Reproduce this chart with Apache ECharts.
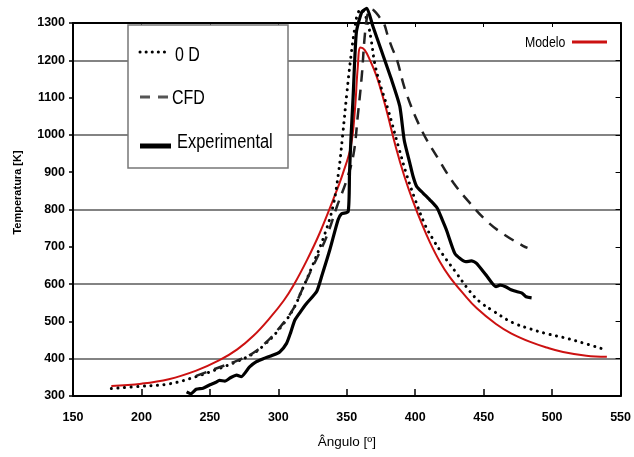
<!DOCTYPE html>
<html>
<head>
<meta charset="utf-8">
<script src="https://cdn.jsdelivr.net/npm/echarts@6/dist/echarts.min.js"></script>
<style>
  html, body { margin: 0; padding: 0; background: #fff; }
  #chart { width: 634px; height: 457px; }
</style>
</head>
<body>
<div id="chart"></div>
<script>
  // valores
  var modeloAngulo = [178, 200, 220, 240, 257, 270, 282, 294, 304, 311, 321, 330, 340, 347, 353, 356, 358, 360, 363, 367, 372, 378, 386, 392, 398, 405, 411, 418, 425, 435, 445, 459, 470, 484, 496, 508, 525, 540];
  var modeloTemp   = [327, 333, 345, 368, 396, 425, 462, 510, 556, 596, 665, 735, 826, 895, 970, 1070, 1180, 1234, 1228, 1200, 1155, 1080, 965, 890, 826, 760, 710, 660, 620, 575, 535, 493, 468, 445, 430, 418, 408, 405];

  var ceroDAngulo = [178, 200, 221, 240, 257, 270, 281, 290, 299, 310, 318, 325, 334, 340, 344, 347, 350, 353, 356, 358, 360.5, 363, 366, 368, 370.5, 374, 380, 388, 394, 400, 407, 413, 420, 430, 440, 447, 457, 471, 484, 496, 508, 520, 540];
  var ceroDTemp   = [320, 326, 333, 352, 374, 393, 412, 438, 472, 527, 590, 650, 735, 810, 900, 1000, 1110, 1210, 1290, 1325, 1337, 1325, 1290, 1250, 1190, 1140, 1070, 965, 890, 826, 760, 720, 680, 630, 580, 553, 528, 497, 480, 467, 457, 445, 423];

  var cfdAngulo = [240, 257, 270, 281, 290, 299, 310, 318, 325, 335, 343, 350, 355, 358, 361, 363, 365, 367, 370, 374, 377, 380, 383, 386.6, 393, 404.5, 416.5, 428, 440, 452, 464, 479, 482];
  var cfdTemp   = [354, 377, 395, 414, 440, 475, 528, 590, 645, 725, 810, 880, 950, 1050, 1160, 1260, 1320, 1337, 1333, 1315, 1300, 1265, 1234, 1202, 1117, 1014, 938, 871, 817, 770, 735, 702, 697];

  var expAngulo = [233, 236, 240, 245, 250, 254, 257, 261, 265, 269.5, 273, 279, 284, 289, 295, 301, 306, 309, 312, 316, 320.6, 328, 332, 337.6, 343.6, 346, 351, 352, 353, 354.6, 357, 361, 364.6, 369, 375, 382.6, 388.7, 392, 396, 398.4, 401, 405.7, 410.6, 416, 420, 422.8, 428.8, 433, 437, 441, 444.6, 451.8, 459, 462, 466, 470, 474, 478, 481, 485];
  var expTemp   = [311, 306, 318, 321, 330, 336, 342, 340, 349, 356, 352, 378, 392, 400, 408, 418, 441, 470, 503, 525, 548, 580, 625, 692, 772, 788, 794, 899, 987, 1100, 1275, 1330, 1339, 1292, 1229, 1149, 1077, 985, 925, 889, 862, 844, 826, 804, 770, 745, 683, 668, 660, 662, 656, 624, 593, 597, 593, 585, 580, 576, 566, 563];

  var xTicks = { min: 150, max: 550, step: 50 };
  var yTicks = { min: 300, max: 1300, step: 100 };

  function pares(xs, ys) {
    return xs.map(function (x, i) { return [x, ys[i]]; });
  }

  var sans = "'Liberation Sans', Arial, sans-serif";
  var chart = echarts.init(document.getElementById('chart'));

  chart.setOption({
    animation: false,
    backgroundColor: '#fff',
    grid: { left: 73, right: 13, top: 23, bottom: 61 },
    xAxis: [{
      type: 'value',
      min: xTicks.min, max: xTicks.max, interval: xTicks.step,
      position: 'bottom',
      axisLine: { show: true, lineStyle: { color: '#000', width: 2 } },
      axisTick: { show: true, inside: true, length: 7, lineStyle: { color: '#000', width: 1.5 } },
      axisLabel: { margin: 15, color: '#000', fontFamily: sans, fontWeight: 'bold', fontSize: 12.5, formatter: function (v) { return String(v); } },
      splitLine: { show: false },
      name: 'Ângulo [º]',
      nameLocation: 'middle',
      nameGap: 39,
      nameTextStyle: { color: '#000', fontFamily: sans, fontSize: 13.5 }
    }, {
      type: 'value',
      min: xTicks.min, max: xTicks.max, interval: xTicks.step,
      position: 'top',
      axisLine: { show: true, lineStyle: { color: '#000', width: 2 } },
      axisTick: { show: true, inside: true, length: 4, lineStyle: { color: '#000', width: 1 } },
      axisLabel: { show: false },
      splitLine: { show: false }
    }],
    yAxis: [{
      type: 'value',
      min: yTicks.min, max: yTicks.max, interval: yTicks.step,
      position: 'left',
      axisLine: { show: true, lineStyle: { color: '#000', width: 2 } },
      axisTick: { show: true, inside: false, length: 4, lineStyle: { color: '#000', width: 1.5 } },
      axisLabel: { margin: 8, color: '#000', fontFamily: sans, fontWeight: 'bold', fontSize: 12.5, formatter: function (v) { return String(v); } },
      splitLine: { show: true, lineStyle: { color: ['rgba(0,0,0,0)', '#5a5a5a'], width: 1.5 } },
      name: 'Temperatura [K]',
      nameLocation: 'middle',
      nameGap: 50,
      nameTextStyle: { color: '#000', fontFamily: sans, fontWeight: 'bold', fontSize: 11, padding: [0, 0, 0, 34] }
    }, {
      type: 'value',
      min: yTicks.min, max: yTicks.max, interval: yTicks.step,
      position: 'right',
      axisLine: { show: true, lineStyle: { color: '#000', width: 2 } },
      axisTick: { show: true, inside: true, length: 5, lineStyle: { color: '#000', width: 1 } },
      axisLabel: { show: false },
      splitLine: { show: false }
    }],
    series: [{
      name: 'Modelo',
      type: 'line',
      data: pares(modeloAngulo, modeloTemp),
      symbol: 'none',
      smooth: 0.4,
      clip: false,
      lineStyle: { color: '#cc1111', width: 2 },
      z: 3
    }, {
      name: '0 D',
      type: 'line',
      data: pares(ceroDAngulo, ceroDTemp),
      symbol: 'none',
      smooth: 0.4,
      clip: false,
      lineStyle: { color: '#000', width: 3, type: [0.1, 6.5], cap: 'round' },
      z: 4
    }, {
      name: 'CFD',
      type: 'line',
      data: pares(cfdAngulo, cfdTemp),
      symbol: 'none',
      smooth: 0.4,
      clip: false,
      lineStyle: { color: '#222', width: 2.5, type: [11, 8] },
      z: 4
    }, {
      name: 'Experimental',
      type: 'line',
      data: pares(expAngulo, expTemp),
      symbol: 'none',
      smooth: 0.2,
      clip: false,
      lineStyle: { color: '#000', width: 3.2, join: 'round' },
      z: 5
    }],
    graphic: [
      { type: 'rect', shape: { x: 128, y: 25, width: 160, height: 143 }, style: { fill: '#fff', stroke: '#777', lineWidth: 1.5 }, z: 10 },
      { type: 'line', shape: { x1: 140, y1: 52, x2: 165, y2: 52 }, style: { stroke: '#000', lineWidth: 3, lineDash: [0.1, 6], lineCap: 'round' }, z: 11 },
      { type: 'text', x: 175, y: 55, scaleX: 0.8, style: { text: '0 D', font: '20px ' + sans, fill: '#000', verticalAlign: 'middle' }, z: 11 },
      { type: 'line', shape: { x1: 140, y1: 97, x2: 168, y2: 97 }, style: { stroke: '#555', lineWidth: 3, lineDash: [10, 8] }, z: 11 },
      { type: 'text', x: 172, y: 98, scaleX: 0.8, style: { text: 'CFD', font: '20px ' + sans, fill: '#000', verticalAlign: 'middle' }, z: 11 },
      { type: 'line', shape: { x1: 140, y1: 146, x2: 171, y2: 146 }, style: { stroke: '#000', lineWidth: 5 }, z: 11 },
      { type: 'text', x: 177, y: 142, scaleX: 0.82, style: { text: 'Experimental', font: '20px ' + sans, fill: '#000', verticalAlign: 'middle' }, z: 11 },
      { type: 'text', x: 525, y: 43, scaleX: 0.82, style: { text: 'Modelo', font: '15px ' + sans, fill: '#000', verticalAlign: 'middle' }, z: 11 },
      { type: 'line', shape: { x1: 572, y1: 42, x2: 607, y2: 42 }, style: { stroke: '#cc1111', lineWidth: 3 }, z: 11 }
    ]
  });
</script>
</body>
</html>
